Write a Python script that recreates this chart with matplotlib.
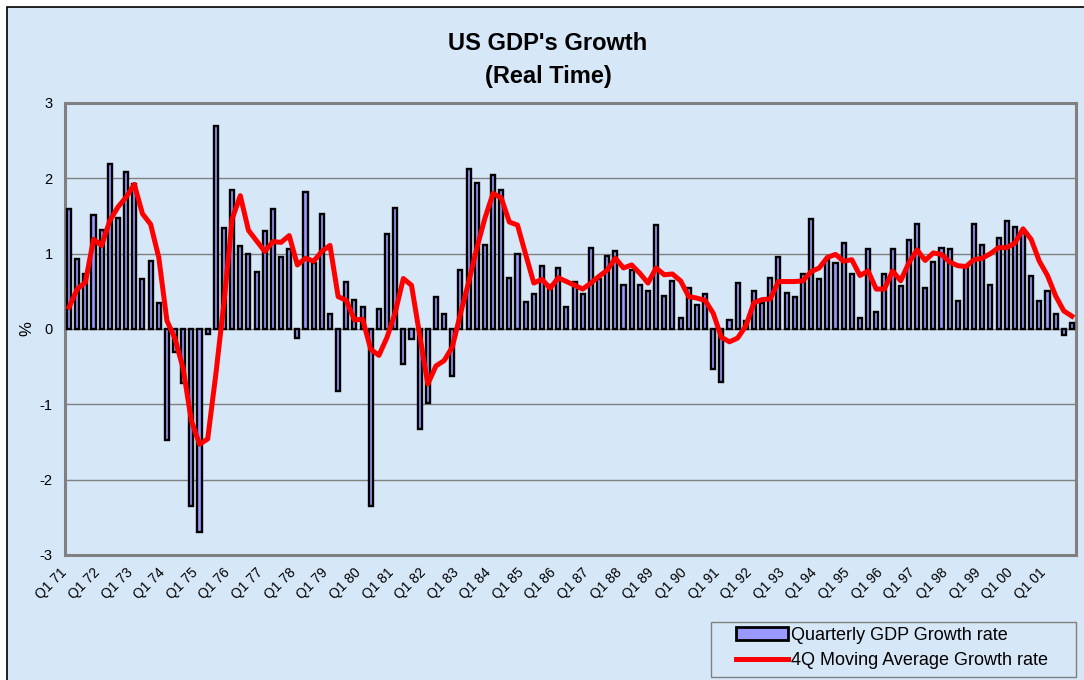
import numpy as np
import matplotlib
matplotlib.use("Agg")
import matplotlib.pyplot as plt
from matplotlib.patches import Rectangle, Patch
from matplotlib.lines import Line2D
from matplotlib.transforms import ScaledTranslation

# Quarterly real GDP growth (%), Q1 1971 .. Q4 2001
quarterly_growth = [
    1.59, 0.93, 0.73, 1.51, 1.31, 2.19, 1.48, 2.08, 1.92, 0.66, 0.90, 0.35,
    -1.48, -0.30, -0.72, -2.35, -2.70, -0.07, 2.70, 1.34, 1.85, 1.10, 0.99, 0.76,
    1.30, 1.59, 0.96, 1.06, -0.12, 1.82, 0.88,
    1.52, 0.20, -0.82, 0.62, 0.38, 0.29, -2.35, 0.27, 1.26, 1.61, -0.47, -0.13,
    -1.33, -0.98, 0.43, 0.20, -0.63, 0.78, 2.12, 1.94, 1.12, 2.04, 1.84, 0.68,
    0.99, 0.36, 0.46, 0.83, 0.58, 0.81,
    0.29, 0.62, 0.46, 1.08, 0.66, 0.97, 1.04, 0.59, 0.78, 0.58, 0.51, 1.38,
    0.44, 0.64, 0.15, 0.54, 0.32, 0.46, -0.53, -0.71, 0.12, 0.61, 0.10, 0.51,
    0.35, 0.68, 0.96, 0.48, 0.42,
    0.73, 1.46, 0.66, 0.91, 0.88, 1.14, 0.73, 0.15, 1.06, 0.22, 0.73, 1.06,
    0.57, 1.18, 1.39, 0.55, 0.89, 1.08, 1.06, 0.37, 0.82, 1.39, 1.12, 0.59,
    1.21, 1.44, 1.35, 1.28, 0.70, 0.37, 0.51, 0.20, -0.08, 0.08,
]

# 4-quarter moving average growth (%)
moving_average = [
    0.29, 0.53, 0.62, 1.19, 1.11, 1.44, 1.62, 1.75, 1.92, 1.53, 1.39, 0.95,
    0.11, -0.13, -0.53, -1.22, -1.53, -1.46, -0.60, 0.35, 1.46, 1.77, 1.31, 1.17,
    1.03, 1.16, 1.15, 1.24, 0.85, 0.94, 0.90,
    1.03, 1.11, 0.43, 0.38, 0.12, 0.13, -0.27, -0.35, -0.11, 0.22, 0.67, 0.58,
    -0.08, -0.73, -0.49, -0.42, -0.24, 0.20, 0.62, 1.07, 1.47, 1.80, 1.74, 1.42,
    1.38, 0.99, 0.61, 0.66, 0.54, 0.68,
    0.63, 0.58, 0.53, 0.61, 0.70, 0.78, 0.94, 0.81, 0.85, 0.74, 0.61, 0.81,
    0.72, 0.73, 0.64, 0.43, 0.41, 0.38, 0.21, -0.11, -0.17, -0.12, 0.04, 0.35,
    0.39, 0.40, 0.63, 0.63, 0.63,
    0.64, 0.76, 0.81, 0.95, 0.99, 0.90, 0.92, 0.71, 0.77, 0.53, 0.53, 0.77,
    0.64, 0.88, 1.05, 0.91, 1.01, 0.99, 0.89, 0.84, 0.83, 0.92, 0.94, 1.00,
    1.08, 1.08, 1.14, 1.33, 1.19, 0.90, 0.71, 0.44, 0.24, 0.17,
]

years = ["71", "72", "73", "74", "75", "76", "77", "78", "79", "80", "81",
         "82", "83", "84", "85", "86", "87", "88", "89", "90", "91", "92",
         "93", "94", "95", "96", "97", "98", "99", "00", "01"]
tick_labels = ["Q1 " + y for y in years]

y_ticks = [-3, -2, -1, 0, 1, 2, 3]

bg = "#d6e7f8"
bar_face = "#9999ff"
line_red = "#ff0000"
plt.rcParams["font.family"] = ["Liberation Sans", "DejaVu Sans"]

W, H = 1084, 680
fig = plt.figure(figsize=(W / 100, H / 100), dpi=100)
fig.patch.set_facecolor("white")

# chart area panel with black frame (extends past right / bottom edges)
fig.patches.append(Rectangle((7 / W, -0.05), 1.1, 1 - 7 / H + 0.05,
                             transform=fig.transFigure, facecolor=bg,
                             edgecolor="black", linewidth=1.2, zorder=-10))

ax = fig.add_axes([65 / W, 1 - 555 / H, 1011 / W, 452 / H])
ax.set_zorder(1)
ax.set_facecolor(bg)

x = np.arange(len(quarterly_growth))
ax.bar(x, quarterly_growth, width=0.5, color=bar_face, edgecolor="black",
       linewidth=1.7, zorder=3)
ax.plot(x, moving_average, color=line_red, linewidth=3.6, zorder=4,
        solid_joinstyle="round")

ax.set_xlim(-0.5, len(x) - 0.5)
ax.set_ylim(-3, 3)
ax.set_yticks(y_ticks)
ax.set_yticklabels([str(v) for v in y_ticks], fontsize=10.5)
for v in y_ticks:
    ax.axhline(v, color="#808080", linewidth=1.0, zorder=1)

ax.set_xticks(x[::4])
ax.set_xticklabels(tick_labels, fontsize=10, rotation=45, ha="right",
                   va="top", rotation_mode="anchor")

ax.tick_params(axis="both", length=0, pad=6)
ax.tick_params(axis="y", pad=9)

# nudge the slanted category labels so their ends sit just left of each quarter
offset = ScaledTranslation(-0.09, -0.02, fig.dpi_scale_trans)
for lbl in ax.get_xticklabels():
    lbl.set_transform(lbl.get_transform() + offset)

for s in ax.spines.values():
    s.set_color("#808080")
    s.set_linewidth(2.2)

ax.set_ylabel("%", fontsize=12, labelpad=4)

fig.text(548 / W, 1 - 43 / H, "US GDP's Growth", ha="center",
         va="center", fontsize=17, fontweight="bold")
fig.text(548 / W, 1 - 76 / H, "(Real Time)", ha="center",
         va="center", fontsize=17, fontweight="bold")

# legend box below the plot area, lower right
fig.patches.append(Rectangle((711 / W, 1 - 677 / H), 365 / W, 55 / H,
                             transform=fig.transFigure, facecolor=bg,
                             edgecolor="#808080", linewidth=1.0, zorder=2))
handles = [
    Patch(facecolor=bar_face, edgecolor="black", linewidth=2.0),
    Line2D([0], [0], color=line_red, linewidth=3.6),
]
leg = fig.legend(handles, ["Quarterly GDP Growth rate",
                           "4Q Moving Average Growth rate"],
                 loc="upper left", bbox_to_anchor=(736 / W, 1 - 627 / H),
                 fontsize=13, frameon=False, handlelength=2.9,
                 handletextpad=0.15, borderpad=0, labelspacing=0.45,
                 borderaxespad=0)
leg.set_zorder(3)

fig.savefig("out.png", dpi=100, facecolor=fig.get_facecolor())
